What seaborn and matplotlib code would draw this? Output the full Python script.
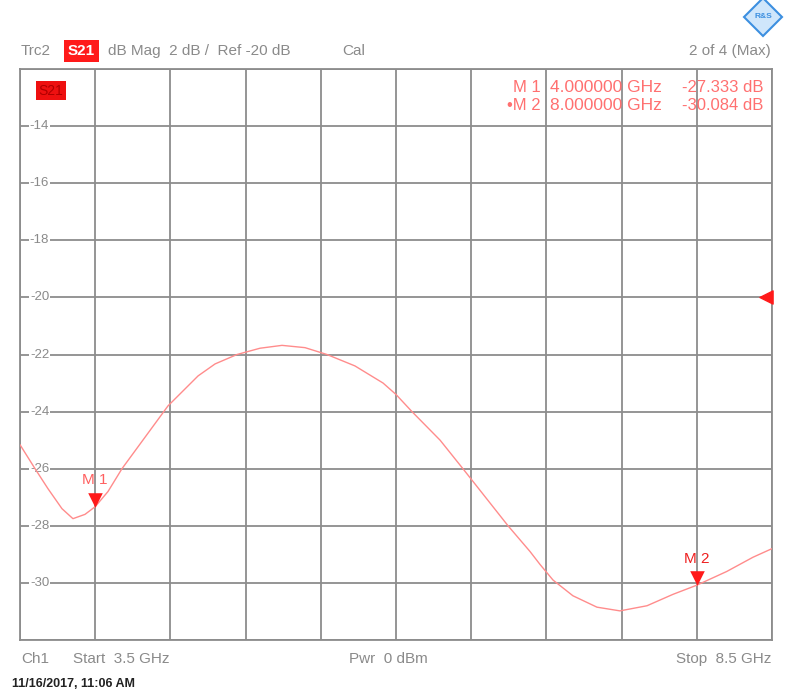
import numpy as np
import pandas as pd
import seaborn as sns
import matplotlib.pyplot as plt
from matplotlib.transforms import ScaledTranslation

# trace readings (GHz, dB)
freq_ghz = [3.5, 3.6, 3.686, 3.779, 3.852, 3.932, 4.0, 4.085, 4.178, 4.331,
            4.484, 4.684, 4.797, 4.943, 5.096, 5.242, 5.395, 5.541, 5.727, 5.914, 6.0,
            6.106, 6.293, 6.445, 6.505, 6.625, 6.745, 6.891, 6.957, 7.044, 7.176,
            7.336, 7.489, 7.669, 7.842, 8.0, 8.199, 8.374, 8.5]
s21_db = [-25.16, -26.0, -26.7, -27.4, -27.75, -27.6, -27.33, -26.8, -26.0, -24.9,
          -23.8, -22.75, -22.33, -22.0, -21.78, -21.68, -21.76, -22.0, -22.4, -23.0, -23.4,
          -24.0, -25.0, -26.0, -26.4, -27.2, -28.0, -28.9, -29.35, -29.9, -30.45,
          -30.85, -30.98, -30.8, -30.4, -30.08, -29.6, -29.1, -28.8]

marker_names = ["M 1", "M 2"]
marker_freq = [4.0, 8.0]
marker_db = [-27.333, -30.084]

y_ticks = [-14, -16, -18, -20, -22, -24, -26, -28, -30]
x_grid = [3.5, 4.0, 4.5, 5.0, 5.5, 6.0, 6.5, 7.0, 7.5, 8.0, 8.5]
y_grid = [-12, -14, -16, -18, -20, -22, -24, -26, -28, -30, -32]

sns.set_style("white")
plt.rcParams['font.family'] = ['Liberation Sans', 'DejaVu Sans']

W, H = 785, 697
fig = plt.figure(figsize=(W / 100, H / 100), dpi=100)
ax = fig.add_axes([20 / W, 1 - 640 / H, (772 - 20) / W, (640 - 69) / H])

df = pd.DataFrame({"freq": freq_ghz, "db": s21_db})
sns.lineplot(data=df, x="freq", y="db", ax=ax, color="#ff8c8c", lw=1.0, zorder=5)

ax.set_xlim(3.5, 8.5)
ax.set_ylim(-32, -12)
ax.set_xticks(x_grid)
ax.set_yticks(y_grid)
ax.grid(True, color="#8c8c8c", lw=1.3)
ax.tick_params(length=0, labelbottom=False, labelleft=False)
ax.set_xlabel("")
ax.set_ylabel("")
for sp in ax.spines.values():
    sp.set_color("#8c8c8c")
    sp.set_linewidth(1.3)

gray = "#8a8a8a"
# y labels sitting on the grid lines
for v in y_ticks:
    ax.text(3.63, v, str(v), ha="center", va="center", fontsize=9.5, color=gray,
            bbox=dict(facecolor="white", edgecolor="none", pad=0.5), zorder=4)

# markers
offset = ScaledTranslation(0, 5 / 72, fig.dpi_scale_trans)
ax.scatter(marker_freq, marker_db, marker="v", s=110, color="#ff1a1a",
           transform=ax.transData + offset, zorder=6, linewidths=0)
for name, f, d in zip(marker_names, marker_freq, marker_db):
    ax.annotate(name, (f, d), xytext=(0, 14), textcoords="offset points",
                ha="center", va="bottom", fontsize=11,
                color="#ff6060" if name == "M 1" else "#ee2020", zorder=6)

# reference level arrow on the right edge
ax.scatter([8.5], [-20], marker="<", s=90, color="#ff1a1a", zorder=6,
           clip_on=False, transform=ax.transData + ScaledTranslation(-4 / 72, 0, fig.dpi_scale_trans))

# trace label box inside the grid
ax.text(0.025, 0.962, "S21", transform=ax.transAxes, fontsize=10, color="#b00000",
        ha="left", va="center", bbox=dict(facecolor="#ee1010", edgecolor="none", pad=2))

# marker readout
red = "#ff7070"
rows = [("M 1", "4.000000 GHz", "-27.333 dB"), ("\u2022M 2", "8.000000 GHz", "-30.084 dB")]
for i, (a, b, c) in enumerate(rows):
    yy = 1 - (87 + i * 19 - 69) / (640 - 69)
    ax.text((541 - 20) / 752, yy, a, transform=ax.transAxes, ha="right", va="center",
            fontsize=12, color=red)
    ax.text((550 - 20) / 752, yy, b, transform=ax.transAxes, ha="left", va="center",
            fontsize=12.5, color=red)
    ax.text((763 - 20) / 752, yy, c, transform=ax.transAxes, ha="right", va="center",
            fontsize=12, color=red)

# header line
def ftxt(x, y, s, **kw):
    kw.setdefault("fontsize", 11)
    kw.setdefault("color", gray)
    kw.setdefault("va", "center")
    fig.text(x / W, 1 - y / H, s, **kw)

ftxt(21, 51, "Trc2")
ftxt(68, 51, "S21", color="white", fontweight="bold",
     bbox=dict(facecolor="#ff1a1a", edgecolor="none", pad=2.5))
ftxt(108, 51, "dB Mag  2 dB /  Ref -20 dB")
ftxt(342, 51, "Cal")
ftxt(771, 51, "2 of 4 (Max)", ha="right")

# logo diamond
fig.add_artist(plt.Line2D([763 / W], [1 - 17 / H], marker="D", markersize=19,
                          markerfacecolor="#cfe6fb", markeredgecolor="#3c8fe0",
                          markeredgewidth=1.5, transform=fig.transFigure))
ftxt(763, 17, "R&S", ha="center", fontsize=6, color="#3c8fe0", fontweight="bold")

# footer line
ftxt(21, 659, "Ch1")
ftxt(73, 659, "Start  3.5 GHz")
ftxt(349, 659, "Pwr  0 dBm")
ftxt(771, 659, "Stop  8.5 GHz", ha="right")
ftxt(12, 684, "11/16/2017, 11:06 AM", fontsize=9, color="#222222", fontweight="bold")

fig.savefig("out.png", dpi=100)
